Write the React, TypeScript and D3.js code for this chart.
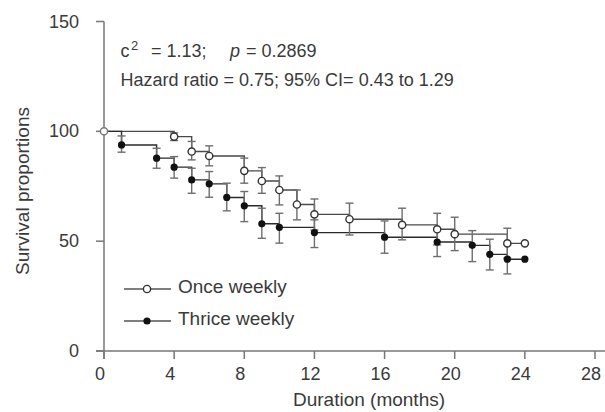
import React from "react";
import * as d3 from "d3";

// Kaplan-Meier estimates: month, survival %, lower bar, upper bar
const onceMonths = [0, 4, 5, 6, 8, 9, 10, 11, 12, 14, 17, 19, 20, 23, 24];
const onceSurv = [100, 97.6, 90.8, 88.8, 82.0, 77.4, 73.3, 66.7, 62.2, 60.0, 57.4, 55.4, 53.2, 49.0, 49.0];
const onceLow = [null, 95.8, 87.0, 84.3, 76.4, 71.8, 66.5, 59.7, 55.1, 52.8, 50.6, 48.3, 45.7, 42.2, null];
const onceHigh = [null, 99.3, 95.4, 93.4, 87.8, 83.5, 79.7, 73.3, 69.2, 67.3, 65.0, 62.7, 60.9, 55.9, null];

const thriceMonths = [0, 1, 3, 4, 5, 6, 7, 8, 9, 10, 12, 16, 19, 21, 22, 23, 24];
const thriceSurv = [100, 93.8, 87.8, 83.7, 77.9, 76.1, 69.9, 66.1, 57.9, 56.3, 53.9, 51.8, 49.6, 48.1, 44.0, 41.8, 41.8];
const thriceLow = [null, 90.5, 83.2, 78.7, 71.8, 70.0, 63.8, 58.9, 51.3, 49.1, 47.1, 44.5, 43.0, 40.7, 36.9, 35.1, null];
const thriceHigh = [null, 97.9, 92.3, 88.5, 83.2, 81.7, 76.4, 72.6, 65.0, 62.7, 59.7, 59.2, 55.9, 54.8, 50.9, 48.3, null];

const xTicks = [0, 4, 8, 12, 16, 20, 24, 28];
const yTicks = [0, 50, 100, 150];
const legendLabels = ["Once weekly", "Thrice weekly"];

const W = 605;
const H = 412;
const font = "'Liberation Sans', Arial, sans-serif";
const textColor = "#3a3a3a";
const axisColor = "#777";

type Pt = { m: number; s: number; lo: number | null; hi: number | null };

const zip = (ms: number[], ss: number[], lo: (number | null)[], hi: (number | null)[]): Pt[] =>
  ms.map((m, i) => ({ m, s: ss[i], lo: lo[i], hi: hi[i] }));

const App = () => {
  const x = d3.scaleLinear().domain([0, 28]).range([104, 595]);
  const y = d3.scaleLinear().domain([0, 150]).range([351, 21.5]);

  const once = zip(onceMonths, onceSurv, onceLow, onceHigh);
  const thrice = zip(thriceMonths, thriceSurv, thriceLow, thriceHigh);

  const step = d3
    .line<Pt>()
    .x((d) => x(d.m))
    .y((d) => y(d.s))
    .curve(d3.curveStepAfter);

  const cap = 4;
  const bars = (data: Pt[], key: string) =>
    data
      .filter((d) => d.lo != null && d.hi != null)
      .map((d, i) => {
        const cx = x(d.m);
        const y1 = y(d.hi as number);
        const y2 = y(d.lo as number);
        return (
          <g key={key + i} stroke="#6e6e6e" strokeWidth={1.4}>
            <line x1={cx} x2={cx} y1={y1} y2={y2} />
            <line x1={cx - cap} x2={cx + cap} y1={y1} y2={y1} />
            <line x1={cx - cap} x2={cx + cap} y1={y2} y2={y2} />
          </g>
        );
      });

  const r = 3.6;

  return (
    <svg
      width={W}
      height={H}
      style={{ position: "absolute", left: 0, top: 0, background: "#fff" }}
      fontFamily={font}
    >
      {/* axes */}
      <line x1={96} x2={W} y1={y(0)} y2={y(0)} stroke={axisColor} strokeWidth={1.5} />
      <line x1={x(0)} x2={x(0)} y1={y(150)} y2={359} stroke={axisColor} strokeWidth={1.5} />
      {xTicks.map((t) => (
        <g key={"xt" + t}>
          <line x1={x(t)} x2={x(t)} y1={y(0)} y2={y(0) + 8} stroke={axisColor} strokeWidth={1.5} />
          <text x={x(t) - 4} y={380} textAnchor="middle" fontSize={18} fill={textColor}>
            {t}
          </text>
        </g>
      ))}
      {yTicks.map((t) => (
        <g key={"yt" + t}>
          <line x1={x(0) - 8} x2={x(0)} y1={y(t)} y2={y(t)} stroke={axisColor} strokeWidth={1.5} />
          <text x={79} y={y(t) + 6} textAnchor="end" fontSize={18} fill={textColor}>
            {t}
          </text>
        </g>
      ))}
      <text x={369} y={406} textAnchor="middle" fontSize={19} fill={textColor}>
        Duration (months)
      </text>
      <text
        transform={`translate(29, 191) rotate(-90)`}
        textAnchor="middle"
        fontSize={19}
        fill={textColor}
      >
        Survival proportions
      </text>

      {/* annotation */}
      <text y={56.5} fontSize={18} fill={textColor}>
        <tspan x={120.5}>c</tspan>
        <tspan x={131} dy={-7} fontSize={13}>2</tspan>
        <tspan x={151} dy={7}>= 1.13;</tspan>
        <tspan x={230} fontStyle="italic">p</tspan>
        <tspan x={246}>= 0.2869</tspan>
      </text>
      <text x={120.5} y={86} fontSize={18} fill={textColor}>
        Hazard ratio = 0.75; 95% CI= 0.43 to 1.29
      </text>

      {/* survival steps */}
      <path d={step(once) ?? ""} fill="none" stroke="#4a4a4a" strokeWidth={1.4} />
      <path d={step(thrice) ?? ""} fill="none" stroke="#2a2a2a" strokeWidth={1.4} />
      {bars(once, "ob")}
      {bars(thrice, "tb")}
      {thrice.slice(1).map((d, i) => (
        <circle key={"tc" + i} cx={x(d.m)} cy={y(d.s)} r={r} fill="#111" />
      ))}
      {once.map((d, i) => (
        <circle
          key={"oc" + i}
          cx={x(d.m)}
          cy={y(d.s)}
          r={r}
          fill="#fff"
          stroke={i === 0 ? "#777" : "#333"}
          strokeWidth={1.4}
        />
      ))}

      {/* legend */}
      {legendLabels.map((label, i) => {
        const ly = 289 + i * 32;
        return (
          <g key={label}>
            <line x1={124} x2={171} y1={ly} y2={ly} stroke="#555" strokeWidth={1.4} />
            {i === 0 ? (
              <circle cx={147} cy={ly} r={r} fill="#fff" stroke="#333" strokeWidth={1.4} />
            ) : (
              <circle cx={147} cy={ly} r={r} fill="#111" />
            )}
            <text x={178} y={ly + 4} fontSize={19} fill={textColor}>
              {label}
            </text>
          </g>
        );
      })}
    </svg>
  );
};

export default App;
